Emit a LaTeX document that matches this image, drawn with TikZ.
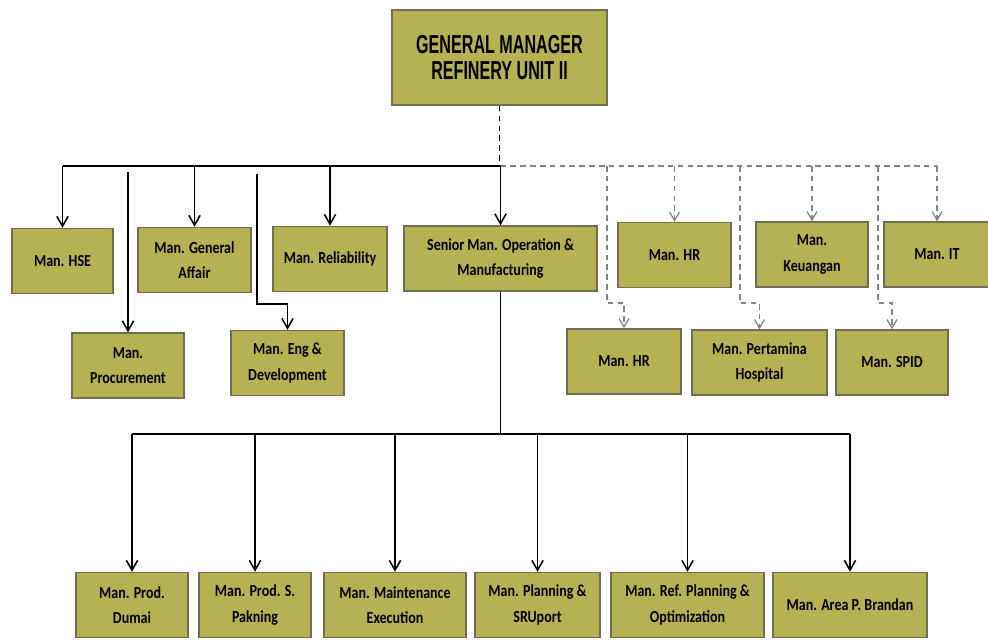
\documentclass[tikz,border=0pt]{standalone}
\usepackage{fontspec}
\setmainfont{Carlito}
\newfontfamily\boxfont[FakeStretch=0.83]{Carlito}
\newfontfamily\gmfont[FakeStretch=0.62]{Liberation Sans}
\usepackage{tikz}
\usetikzlibrary{calc, arrows.meta}
\definecolor{OliveFill}{RGB}{182, 178, 84}
\definecolor{OliveEdge}{RGB}{110, 108, 82}
\definecolor{LinkGrey}{RGB}{130, 130, 130}
\tikzset{
  unitbox/.style={draw=OliveEdge, fill=OliveFill, line width=1.2pt, align=center,
    minimum height=1.62cm, inner sep=2pt,
    font=\boxfont\bfseries\fontsize{12}{18}\selectfont},
  solidlink/.style={line width=1.2pt, -{Straight Barb[length=7pt, width=8pt, line width=1.1pt]}},
  staffline/.style={LinkGrey, line width=1pt, dash pattern=on 4pt off 3pt},
  stafflink/.style={staffline, -{Straight Barb[length=6pt, width=7pt, line width=0.9pt]}}
}
\begin{document}
\begin{tikzpicture}[x=0.025cm, y=-0.025cm]
    \useasboundingbox (0,0) rectangle (988,639);

    % General Manager
    \node[unitbox, minimum width=5.375cm, minimum height=2.375cm,
          font=\gmfont\bfseries\fontsize{18.5}{18}\selectfont] (gm) at (499.5,57.5)
          {GENERAL MANAGER\\REFINERY UNIT II};

    % Baris pertama
    \node[unitbox, minimum width=2.525cm] (hse) at (62.5,261) {Man. HSE};
    \node[unitbox, minimum width=2.8cm] (proc) at (128,365.5) {Man.\\Procurement};
    \node[unitbox, minimum width=2.825cm] (ga) at (194.5,260) {Man. General\\Affair};
    \node[unitbox, minimum width=2.825cm] (eng) at (287.5,363) {Man. Eng \&\\Development};
    \node[unitbox, minimum width=2.85cm] (rel) at (330,259) {Man. Reliability};
    \node[unitbox, minimum width=4.825cm] (som) at (500.5,258.5) {Senior Man. Operation \&\\Manufacturing};

    % Staf (garis putus)
    \node[unitbox, minimum width=2.825cm] (hrA) at (674.5,255) {Man. HR};
    \node[unitbox, minimum width=2.8cm] (keu) at (812,254.5) {Man.\\Keuangan};
    \node[unitbox, minimum width=2.65cm] (it) at (937,254.5) {Man. IT};
    \node[unitbox, minimum width=2.85cm] (hrB) at (624,361.5) {Man. HR};
    \node[unitbox, minimum width=3.375cm] (hosp) at (759.5,362.5) {Man. Pertamina\\Hospital};
    \node[unitbox, minimum width=2.8cm] (spid) at (892,362.5) {Man. SPID};

    % Baris bawah
    \node[unitbox, minimum width=2.8cm] (dumai) at (132,605) {Man. Prod.\\Dumai};
    \node[unitbox, minimum width=2.8cm] (pakning) at (255,605) {Man. Prod. S.\\Pakning};
    \node[unitbox, minimum width=3.55cm] (maint) at (395,605) {Man. Maintenance\\Execution};
    \node[unitbox, minimum width=3.125cm] (srp) at (537.5,605) {Man. Planning \&\\SRUport};
    \node[unitbox, minimum width=3.825cm] (refplan) at (687.5,605) {Man. Ref. Planning \&\\Optimization};
    \node[unitbox, minimum width=3.85cm] (brandan) at (850,605) {Man. Area P. Brandan};

    % Titik bantu
    \coordinate (bus) at (0,166);
    \coordinate (lowbus) at (0,434);
    \coordinate (procTop) at (128,172);
    \coordinate (engTop) at (257,174);
    \coordinate (engBend) at (257,304);
    \coordinate (hrBend) at (607,303);
    \coordinate (hospBend) at (740,303);
    \coordinate (spidBend) at (878,303);

    % Garis komando
    \draw[staffline, black, line width=1.2pt] (gm.south) -- (gm.south |- bus);
    \draw[line width=1.2pt] (hse.north |- bus) -- (som.north |- bus);
    \foreach \n in {hse, ga, rel, som}
        \draw[solidlink] (\n.north |- bus) -- (\n.north);
    \draw[solidlink] (procTop) -- (proc.north);
    \draw[solidlink] (engTop) -- (engBend) -| (eng.north);

    % Garis staf
    \draw[staffline] (som.north |- bus) -- (it.north |- bus);
    \foreach \n in {hrA, keu, it}
        \draw[stafflink] (\n.north |- bus) -- (\n.north);
    \draw[stafflink] (hrBend |- bus) -- (hrBend) -| (hrB.north);
    \draw[stafflink] (hospBend |- bus) -- (hospBend) -| (hosp.north);
    \draw[stafflink] (spidBend |- bus) -- (spidBend) -| (spid.north);

    % Operasi ke bawah
    \draw[line width=1.2pt] (som.south) -- (som.south |- lowbus);
    \draw[line width=1.2pt] (dumai.north |- lowbus) -- (brandan.north |- lowbus);
    \foreach \n in {dumai, pakning, maint, srp, refplan, brandan}
        \draw[solidlink] (\n.north |- lowbus) -- (\n.north);
\end{tikzpicture}
\end{document}
